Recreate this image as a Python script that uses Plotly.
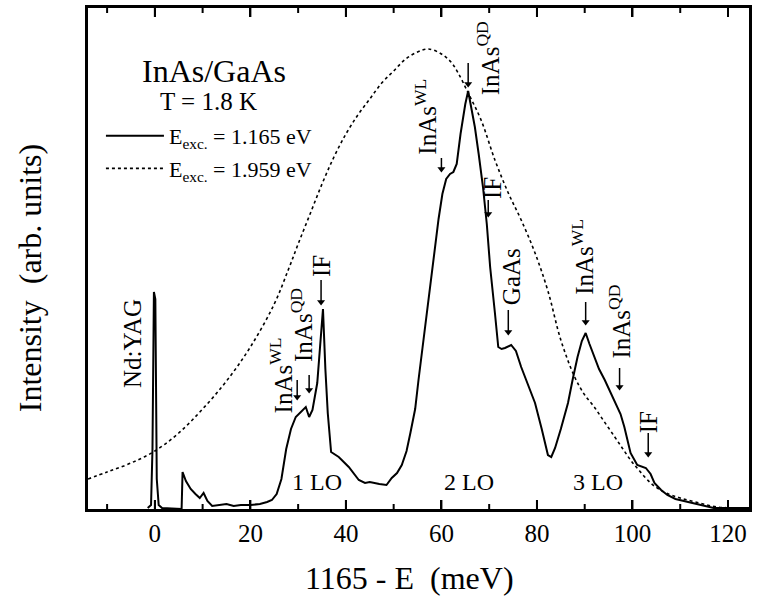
import plotly.graph_objects as go

# ---------------- data ----------------
# Solid spectrum: E_exc = 1.165 eV
solid_x = [-1.5, -0.8, -0.5, -0.2, 0.1, 0.4, 0.8, 1.5, 5.6, 5.8, 6.5, 7.5, 8.5, 9.4, 10.2, 11.0, 12.0,
           13.5, 15, 16.5, 18, 20, 22, 23.5, 24.5, 25.5, 26.5, 27.5, 28.5, 29.5, 30.6, 31.6, 32.3,
           33.0, 34.0, 34.6, 35.2, 35.7, 36.2, 36.9, 38.5, 40.6, 42.7, 44, 45, 47, 48.5, 49.6, 50.7,
           51.7, 52.7, 53.5, 54.5, 55.2, 56.0, 56.7, 57.7, 58.6, 59.4, 60.2, 61, 61.8, 62.5, 63.2, 64,
           65, 65.6, 66.3, 67, 67.8, 68.7, 69.5, 70.2, 71.2, 71.9, 72.6, 73.3, 74.6, 75.6, 76.7, 78,
           79.6, 81, 82.3, 83, 83.8, 85, 86.5, 87.5, 88.5, 89.4, 90.2, 91, 92, 93, 94.2, 95.3, 96.5,
           97.5, 98.3, 99.6, 101, 102.8, 103.8, 104.6, 106, 107.3, 109, 111.5, 114, 117, 120, 124.4]
solid_y = [1, 4, 60, 217, 210, 30, 4, 1, 0, 37, 28, 20, 15, 11, 16, 8, 3,
           4, 5, 3, 4, 4, 5, 7, 9, 15, 30, 60, 80, 92, 97, 102, 92,
           99, 126, 160, 200, 140, 96, 57, 52, 42, 29, 26, 27, 25, 24, 31, 36,
           44, 58, 76, 100, 129, 160, 186, 229, 262, 290, 315, 330, 335, 337, 345, 375,
           405, 418, 400, 382, 355, 322, 285, 242, 196, 162, 160, 161, 164, 158, 142, 125,
           106, 80, 54, 52, 61, 80, 106, 130, 152, 168, 176, 165, 152, 140, 129, 118, 106,
           95, 82, 56, 44, 41, 35, 26, 19, 14, 10, 7, 4, 1, 1, 1]

# Dotted spectrum: E_exc = 1.959 eV
dot_x = [-14, -10, -5, 0, 5, 10, 15, 20, 25, 28, 30, 32.5, 35, 37.5, 40, 42.5, 45, 47.5, 50, 52.5,
         55, 57.3, 60, 62, 63.5, 65.6, 68.3, 71.2, 74, 76.7, 79.6, 82.3, 85, 87.9, 90, 92, 94,
         96.3, 98, 99.6, 101.5, 103.8, 105.5, 107, 110, 114, 117.7, 121, 124.4]
dot_y = [30, 37, 46, 58, 76, 100, 128, 162, 205, 240, 265, 295, 325, 352, 375, 394, 410, 426, 438, 450,
         457, 460, 455, 447, 436, 416, 389, 349, 316, 289, 256, 218, 169, 132, 114, 102, 88,
         72, 60, 49, 38, 26, 20, 16, 11, 6, 2, 1, 0]

major_ticks = [0, 20, 40, 60, 80, 100, 120]
minor_ticks = [-10, 10, 30, 50, 70, 90, 110]

# peak labels: text, centre x, centre y
label_text = ["Nd:YAG", "InAs<sup>WL</sup>", "InAs<sup>QD</sup>", "IF",
              "InAs<sup>WL</sup>", "InAs<sup>QD</sup>", "IF", "GaAs",
              "InAs<sup>WL</sup>", "InAs<sup>QD</sup>", "IF"]
label_x = [-4.8, 26.5, 30.8, 34.8, 56.7, 69.8, 70.6, 74.6, 89.6, 97.3, 103.3]
label_y = [166, 134, 184, 243, 392, 451, 321, 232, 252, 187, 87]

# arrows: head x, head y, shaft length
arrow_x = [29.8, 32.3, 34.8, 60.0, 65.6, 69.8, 74.0, 90.2, 97.3, 103.3]
arrow_y = [109, 116, 204, 337, 422, 292, 174, 184, 119, 52]
arrow_len = [20, 18, 25, 14, 24, 17, 25, 23, 22, 24]

lo_text = ["1 LO", "2 LO", "3 LO"]
lo_x = [34.0, 65.8, 92.7]
lo_y = [27, 27, 27]

X_RANGE = [-14, 124.4]
FONT = "Liberation Serif, Times New Roman, serif"

fig = go.Figure()
fig.add_trace(go.Scatter(x=solid_x, y=solid_y, mode="lines",
                         line=dict(color="black", width=2),
                         name="E<sub>exc.</sub> = 1.165 eV", legendgroup="a"))
fig.add_trace(go.Scatter(x=dot_x, y=dot_y, mode="lines", line_shape="spline",
                         line=dict(color="black", width=1.6, dash="dot"),
                         name="E<sub>exc.</sub> = 1.959 eV", legendgroup="b"))

# arrows (shafts + heads)
shaft_x, shaft_y = [], []
for x, y, L in zip(arrow_x, arrow_y, arrow_len):
    shaft_x += [x, x, None]
    shaft_y += [y + L, y + 3, None]
fig.add_trace(go.Scatter(x=shaft_x, y=shaft_y, mode="lines", line=dict(color="black", width=1.5),
                         showlegend=False, hoverinfo="skip"))
fig.add_trace(go.Scatter(x=arrow_x, y=[y + 3 for y in arrow_y], mode="markers",
                         marker=dict(symbol="triangle-down", size=7, color="black"),
                         showlegend=False, hoverinfo="skip"))

# inward tick marks on bottom and top frame, placed on the x scale
shapes = []
for vals, L in ((major_ticks, 9), (minor_ticks, 5)):
    for v in vals:
        shapes.append(dict(type="line", xref="x", yref="paper", ysizemode="pixel", yanchor=0,
                           x0=v, x1=v, y0=0, y1=L, line=dict(color="black", width=2), layer="above"))
        shapes.append(dict(type="line", xref="x", yref="paper", ysizemode="pixel", yanchor=1,
                           x0=v, x1=v, y0=0, y1=-L, line=dict(color="black", width=2), layer="above"))

ann = []
for t, x, y in zip(label_text, label_x, label_y):
    ann.append(dict(x=x, y=y, xref="x", yref="y", text=t, textangle=-90, showarrow=False,
                    xanchor="center", yanchor="middle", font=dict(size=25, family=FONT, color="black")))
for t, x, y in zip(lo_text, lo_x, lo_y):
    ann.append(dict(x=x, y=y, xref="x", yref="y", text=t, showarrow=False,
                    font=dict(size=24, family=FONT, color="black")))
ann.append(dict(x=12.3, y=438, xref="x", yref="y", text="InAs/GaAs", showarrow=False,
                font=dict(size=32, family=FONT, color="black")))
ann.append(dict(x=11.25, y=408, xref="x", yref="y", text="T = 1.8 K", showarrow=False,
                font=dict(size=25, family=FONT, color="black")))
ann.append(dict(x=(30 - 88) / 664, y=(509 - 278) / 501, xref="paper", yref="paper",
                text="Intensity \u00a0(arb. units)", textangle=-90, showarrow=False,
                xanchor="center", yanchor="middle", font=dict(size=32, family=FONT, color="black")))
ann.append(dict(x=(411 - 88) / 664, y=(509 - 578) / 501, xref="paper", yref="paper",
                text="1165 - E \u00a0(meV)", showarrow=False,
                xanchor="center", yanchor="middle", font=dict(size=32, family=FONT, color="black")))

fig.update_layout(
    width=757, height=598,
    margin=dict(l=88, r=5, t=8, b=89),
    paper_bgcolor="white", plot_bgcolor="white",
    font=dict(family=FONT, color="black"),
    annotations=ann,
    shapes=shapes,
    showlegend=True,
    legend=dict(x=(101 - 88) / 664, y=(509 - 115) / 501, xanchor="left", yanchor="top",
                font=dict(size=22, family=FONT, color="black"), bgcolor="rgba(0,0,0,0)",
                itemwidth=58, tracegroupgap=1),
    xaxis=dict(range=X_RANGE, tickmode="array", tickvals=major_ticks,
               ticks="inside", ticklen=9, tickwidth=2, tickcolor="black",
               showline=True, linewidth=2.5, linecolor="black", mirror="ticks",
               showgrid=False,
               tickfont=dict(size=25, family=FONT, color="black")),
    yaxis=dict(range=[0, 501], showticklabels=False, ticks="",
               showline=True, linewidth=2.5, linecolor="black", mirror=True,
               showgrid=False, zeroline=False),
)

fig.write_html("out.html")
